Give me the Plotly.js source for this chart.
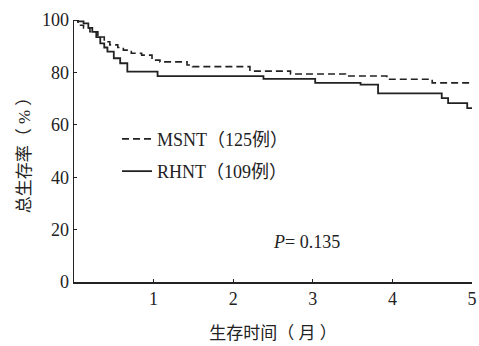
<!DOCTYPE html>
<html><head><meta charset="utf-8">
<script src="https://cdn.plot.ly/plotly-3.0.1.min.js"></script>
<style>html,body{margin:0;padding:0;background:#fff}#c{width:479px;height:346px}</style>
</head><body><div id="c"></div>
<script>
const msntTime = [0, 0.05, 0.12, 0.2, 0.3, 0.38, 0.45, 0.55, 0.62, 0.72, 0.85, 0.98, 1.08, 1.42, 1.49, 2.21, 2.72, 3.41, 3.93, 4.5, 5.0];
const msntSurv = [100, 98, 97, 95.5, 93.5, 91.7, 90.5, 89.5, 88.5, 87.3, 86.6, 84.7, 84, 82.8, 82.2, 80.5, 79.4, 78.6, 77.4, 76, 76];
const rhntTime = [0, 0.05, 0.12, 0.18, 0.23, 0.28, 0.33, 0.38, 0.42, 0.5, 0.58, 0.67, 1.05, 2.38, 3.03, 3.6, 3.82, 4.62, 4.7, 4.94, 5.0];
const rhntSurv = [100, 99.5, 98.7, 97, 95.5, 93.5, 91.1, 89.5, 87.9, 85.4, 83.5, 80.3, 78.6, 77.5, 76, 75.3, 72, 70.2, 68.3, 66.4, 66.4];
const xTicks = [1, 2, 3, 4, 5];
const yTicks = [0, 20, 40, 60, 80, 100];
const labels = ["MSNT（125例）", "RHNT（109例）"];
const pText = "<i>P</i>= 0.135";

const FONT = "'Liberation Serif', 'Times New Roman', 'Noto Sans CJK SC', serif";
const traces = [
  {x: msntTime, y: msntSurv, name: labels[0], mode: "lines", line: {shape: "hv", color: "#222", width: 1.6, dash: "7px,4px"}, legend: "legend", cliponaxis: false},
  {x: rhntTime, y: rhntSurv, name: labels[1], mode: "lines", line: {shape: "hv", color: "#222", width: 1.8}, legend: "legend2", cliponaxis: false}
];
const legBase = {xanchor: "left", yanchor: "middle", bgcolor: "rgba(0,0,0,0)", borderwidth: 0, font: {family: FONT, size: 18, color: "#222"}, itemwidth: 30};
const layout = {
  width: 479, height: 346,
  margin: {l: 73.5, r: 7, t: 20, b: 64},
  paper_bgcolor: "#fff", plot_bgcolor: "#fff",
  font: {family: FONT, size: 18, color: "#222"},
  showlegend: true,
  legend: Object.assign({x: 0.108, y: 0.545}, legBase),
  legend2: Object.assign({x: 0.108, y: 0.422}, legBase),
  xaxis: {range: [0, 5], tickvals: xTicks, ticks: "inside", ticklen: 3, tickcolor: "#222", showline: true, linecolor: "#222", linewidth: 1.5, showgrid: false, zeroline: false,
          tickfont: {family: FONT, size: 18, color: "#222"},
          title: {text: "生存时间（ 月 ）", font: {family: FONT, size: 17, color: "#222"}, standoff: 19}},
  yaxis: {range: [0, 100], tickvals: yTicks, ticks: "inside", ticklen: 3, tickcolor: "#222", showline: true, linecolor: "#222", linewidth: 1.5, showgrid: false, zeroline: false,
          tickfont: {family: FONT, size: 18, color: "#222"},
          title: {text: "总生存率（ % ）", font: {family: FONT, size: 17, color: "#222"}, standoff: 7}},
  annotations: [{x: 2.92, y: 15.3, xref: "x", yref: "y", text: pText, showarrow: false, font: {family: FONT, size: 18, color: "#222"}}]
};
Plotly.newPlot("c", traces, layout, {displayModeBar: false, staticPlot: true});
</script></body></html>
